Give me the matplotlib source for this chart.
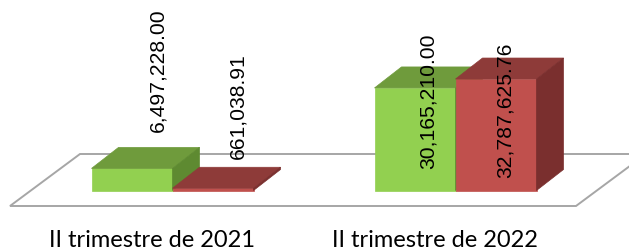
import matplotlib
matplotlib.use("Agg")
import matplotlib.pyplot as plt
from matplotlib.patches import Polygon

categories = ["II trimestre de 2021", "II trimestre de 2022"]
series_a = [6497228.00, 30165210.00]   # green
series_b = [661038.91, 32787625.76]    # red

W, H, DPI = 629, 253, 100

# pixel scales used to lay out the pseudo-3D axes
PX_X = 283.0   # px per category
PX_Y = 3.4     # px per million
X0_PX = 151.5  # px of category 0 (front of floor)
BASE_PX = 191.5  # px from top of bar base

fig = plt.figure(figsize=(W / DPI, H / DPI), dpi=DPI)
ax = fig.add_axes([0, 0, 1, 1])
ax.set_xlim(-X0_PX / PX_X, (W - X0_PX) / PX_X)
ax.set_ylim(-(H - BASE_PX) / PX_Y, BASE_PX / PX_Y)
ax.axis("off")

bar_w = 81 / PX_X
bdx, bdy = 27 / PX_X, 21 / PX_Y          # bar depth
fdx, fdy = 70 / PX_X, 52 / PX_Y          # floor depth
sx, sy = 21 / PX_X, 15.5 / PX_Y          # bar row position inside floor

# floor
fy = -sy
floor = Polygon([(-0.5, fy), (1.5, fy), (1.5 + fdx, fy + fdy), (-0.5 + fdx, fy + fdy)],
                closed=True, facecolor="white", edgecolor="#a6a6a6", lw=1.4, zorder=1)
ax.add_patch(floor)

colors = [
    ("#92D050", "#6F9B3C", "#5E8A31"),
    ("#C0504D", "#8E3B39", "#7A2F2E"),
]
label_offsets = [[(25.5, 99), (24.5, 83)], [(13, -12.6), (9, -30)]]


def box(x, h, cols, z):
    front, top, side = cols
    ax.add_patch(Polygon([(x, 0), (x + bar_w, 0), (x + bar_w, h), (x, h)],
                         closed=True, facecolor=front, edgecolor=front, lw=0.5, zorder=z))
    ax.add_patch(Polygon([(x, h), (x + bar_w, h), (x + bar_w + bdx, h + bdy), (x + bdx, h + bdy)],
                         closed=True, facecolor=top, edgecolor=top, lw=0.5, zorder=z))
    ax.add_patch(Polygon([(x + bar_w, 0), (x + bar_w + bdx, bdy), (x + bar_w + bdx, h + bdy), (x + bar_w, h)],
                         closed=True, facecolor=side, edgecolor=side, lw=0.5, zorder=z))


for i, cat in enumerate(categories):
    center = i + sx
    for j, vals in enumerate([series_a, series_b]):
        h = vals[i] / 1e6
        x = center - bar_w + j * bar_w
        box(x, h, colors[j], 2 + i * 2 + j)
        ax.annotate(f"{vals[i]:,.2f}", (x + bar_w / 2, h), xytext=label_offsets[i][j],
                    textcoords="offset pixels", rotation=90, ha="center", va="center",
                    fontsize=15.2, family="Liberation Sans", color="black", zorder=10)
    ax.text(i, -(230 - BASE_PX) / PX_Y, cat, ha="center", va="top",
            fontsize=17, family="Lato", color="black")

fig.savefig("out.png", dpi=DPI)
